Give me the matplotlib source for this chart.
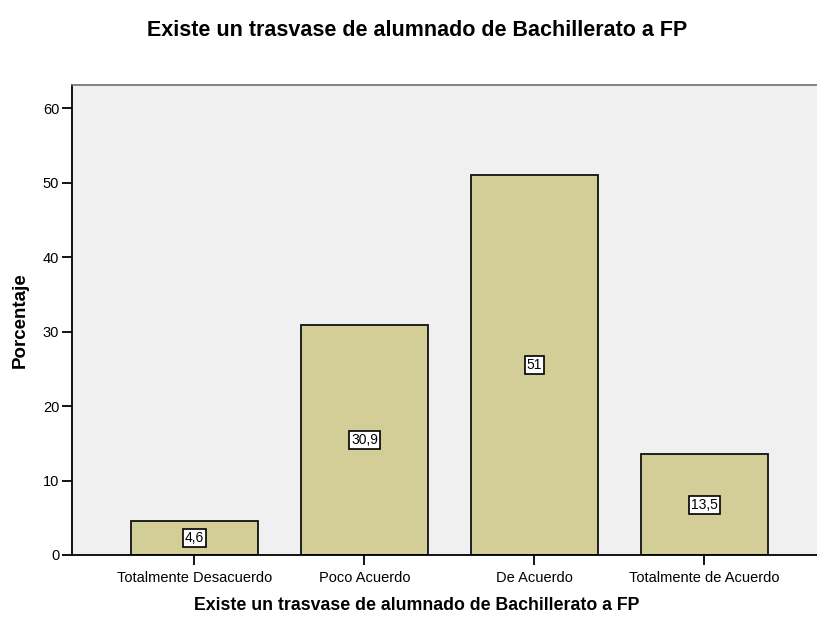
import matplotlib.pyplot as plt

plt.rcParams['font.family'] = ['Liberation Sans', 'DejaVu Sans']

categorias = ["Totalmente Desacuerdo", "Poco Acuerdo", "De Acuerdo", "Totalmente de Acuerdo"]
porcentajes = [4.6, 30.9, 51, 13.5]
etiquetas = ["4,6", "30,9", "51", "13,5"]
yticks = [0, 10, 20, 30, 40, 50, 60]

fig = plt.figure(figsize=(8.17, 6.17), dpi=100)
ax = fig.add_axes([72 / 817, 62 / 617, 745 / 817, 470 / 617])
ax.set_facecolor("#f0f0f0")

x = range(len(categorias))
ax.bar(x, porcentajes, width=0.747, color="#d3ce97", edgecolor="#111111", linewidth=1.3)

for i, v in enumerate(porcentajes):
    ax.text(i, v / 2, etiquetas[i], ha="center", va="center", fontsize=10,
            bbox=dict(boxstyle="square,pad=0.15", fc="white", ec="black", lw=1.2))

ax.set_xlim(-0.7206, 3.662)
ax.set_ylim(0, 63.1)
ax.set_xticks(list(x))
ax.set_xticklabels(categorias, fontsize=10.5)
ax.set_yticks(yticks)
ax.set_yticklabels([str(t) for t in yticks], fontsize=10.5)
ax.tick_params(direction="out", length=7.2, width=1.3, color="black", pad=2)
ax.tick_params(axis="x", pad=4.5)

ax.spines["right"].set_visible(False)
ax.spines["top"].set_color("#707070")
ax.spines["top"].set_linewidth(1.2)
ax.spines["left"].set_linewidth(1.3)
ax.spines["bottom"].set_linewidth(1.3)

ax.set_ylabel("Porcentaje", fontsize=13.5, fontweight="bold", labelpad=10)
ax.set_xlabel("Existe un trasvase de alumnado de Bachillerato a FP", fontsize=12.8, fontweight="bold")
ax.xaxis.set_label_coords((417 - 72) / 745, -(605 - 555) / 470)
ax.xaxis.label.set_va("center")
fig.text(417 / 817, 1 - 31 / 617, "Existe un trasvase de alumnado de Bachillerato a FP",
         ha="center", va="center", fontsize=15.5, fontweight="bold")

fig.savefig("out.png", dpi=100)
